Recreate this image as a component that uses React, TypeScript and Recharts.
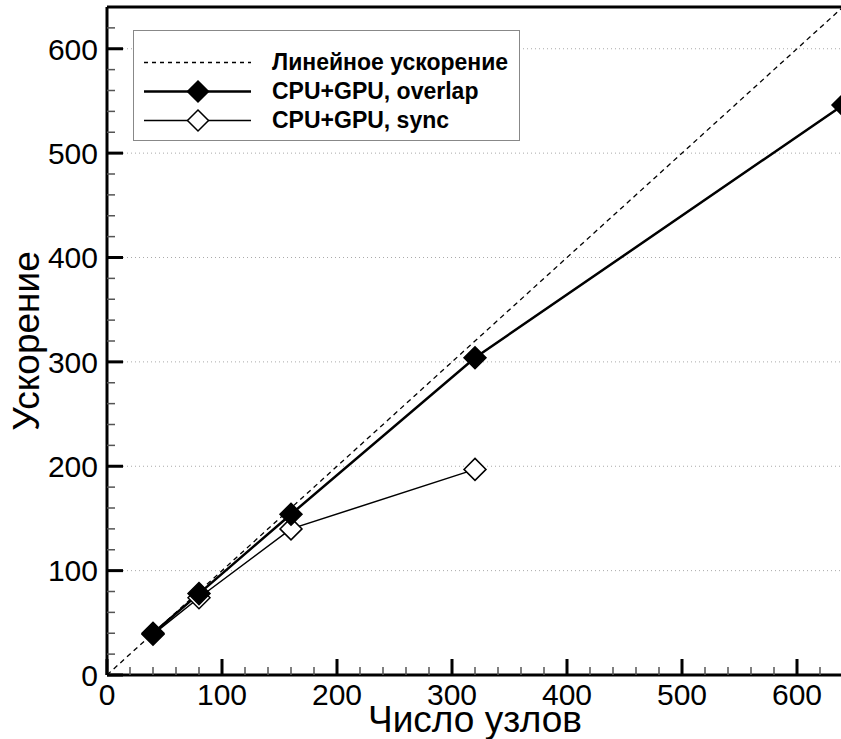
import { ComposedChart, Legend, Line, ReferenceLine, Scatter, XAxis, YAxis } from 'recharts';

// speedup vs number of nodes
const overlapNodes = [40, 80, 160, 320, 640];
const overlapSpeedup = [40, 78, 154, 304, 546];
const syncNodes = [40, 80, 160, 320];
const syncSpeedup = [39, 74, 140, 197];
const linearNodes = [0, 640];
const linearSpeedup = [0, 640];

const seriesNames = ['Линейное ускорение', 'CPU+GPU, overlap', 'CPU+GPU, sync'];
const xTitle = 'Число узлов';
const yTitle = 'Ускорение';

const axisMax = 640;
const axisTicks = [
  0, 20, 40, 60, 80, 100, 120, 140, 160, 180, 200, 220, 240, 260, 280, 300,
  320, 340, 360, 380, 400, 420, 440, 460, 480, 500, 520, 540, 560, 580, 600, 620,
];
const gridLevels = [100, 200, 300, 400, 500, 600];

const isMajor = (v: number) => v % 100 === 0;

const toPoints = (xs: number[], ys: number[]) => xs.map((x, i) => ({ x, y: ys[i] }));
const overlapData = toPoints(overlapNodes, overlapSpeedup);
const syncData = toPoints(syncNodes, syncSpeedup);
const linearData = toPoints(linearNodes, linearSpeedup);
// tick marks sit on the axes, anchored at the tick values
const xMarkData = axisTicks.map((t) => ({ x: t, y: 0, major: isMajor(t) }));
const yMarkData = axisTicks.map((t) => ({ x: 0, y: t, major: isMajor(t) }));

const FONT = '"Liberation Sans", Arial, Helvetica, sans-serif';

function diamondPath(cx: number, cy: number, r: number) {
  return `${cx},${cy - r} ${cx + r},${cy} ${cx},${cy + r} ${cx - r},${cy}`;
}

function Diamond(props: any) {
  const { cx, cy, filled } = props;
  if (cx == null || cy == null) return null;
  return (
    <polygon
      points={diamondPath(cx, cy, 11)}
      fill={filled ? '#000' : '#fff'}
      stroke="#000"
      strokeWidth={1.5}
    />
  );
}

function XTick({ x, y, payload }: any) {
  const v = payload.value as number;
  if (!isMajor(v)) return <g />;
  return (
    <text x={x} y={y + 8} dy="0.72em" textAnchor="middle" fontSize={30} fontFamily={FONT} fill="#000">
      {v}
    </text>
  );
}

function YTick({ x, y, payload }: any) {
  const v = payload.value as number;
  if (!isMajor(v)) return <g />;
  return (
    <text x={x - 9} y={y} dy="0.36em" textAnchor="end" fontSize={30} fontFamily={FONT} fill="#000">
      {v}
    </text>
  );
}

// inward tick marks, major every 100, minor every 20
function XMark(props: any) {
  const { cx, cy, major } = props;
  if (cx == null || cy == null) return <g />;
  const len = major ? 16 : 8;
  const w = major ? 3 : 1.5;
  return <rect x={cx - w / 2} y={cy - len} width={w} height={len} fill={major ? '#000' : '#555'} />;
}

function YMark(props: any) {
  const { cx, cy, major } = props;
  if (cx == null || cy == null) return <g />;
  const len = major ? 16 : 8;
  const w = major ? 3 : 1.5;
  return <rect x={cx} y={cy - w / 2} width={len} height={w} fill={major ? '#000' : '#555'} />;
}

function XTitle({ viewBox }: any) {
  const cx = viewBox.x + viewBox.width / 2;
  const cy = viewBox.y + 57;
  return (
    <text x={cx} y={cy} textAnchor="middle" fontSize={37} fontFamily={FONT} fill="#000">
      {xTitle}
    </text>
  );
}

function YTitle({ viewBox }: any) {
  const cx = viewBox.x + 39;
  const cy = viewBox.y + viewBox.height / 2;
  return (
    <text
      x={cx}
      y={cy}
      transform={`rotate(-90 ${cx} ${cy})`}
      textAnchor="middle"
      fontSize={37}
      fontFamily={FONT}
      fill="#000"
    >
      {yTitle}
    </text>
  );
}

function LegendBox() {
  const styles = [
    { dash: '4 4', width: 1.5, marker: null },
    { dash: undefined, width: 2.5, marker: true },
    { dash: undefined, width: 1.5, marker: false },
  ];
  return (
    <div
      style={{
        boxSizing: 'border-box',
        width: 387,
        height: 111,
        border: '1.5px solid #888',
        background: '#fff',
        paddingTop: 17,
        fontFamily: FONT,
        fontWeight: 'bold',
        fontSize: 23,
        color: '#000',
      }}
    >
      {seriesNames.map((name, i) => {
        const s = styles[i];
        return (
          <div key={name} style={{ display: 'flex', alignItems: 'center', height: 29 }}>
            <svg width={138} height={29} style={{ flex: 'none' }}>
              <line x1={10} x2={117} y1={14.5} y2={14.5} stroke="#000" strokeWidth={s.width} strokeDasharray={s.dash} />
              {s.marker !== null && (
                <polygon
                  points={diamondPath(64, 14.5, 10.5)}
                  fill={s.marker ? '#000' : '#fff'}
                  stroke="#000"
                  strokeWidth={1.5}
                />
              )}
            </svg>
            <span style={{ whiteSpace: 'nowrap' }}>{name}</span>
          </div>
        );
      })}
    </div>
  );
}

export default function App() {
  return (
    <div
      style={{
        position: 'absolute',
        left: 0,
        top: 0,
        width: 841,
        height: 739,
        overflow: 'hidden',
        background: '#fff',
      }}
    >
      <ComposedChart width={850} height={739} margin={{ top: 6, right: 7, bottom: 0, left: 0 }}>
        <XAxis
          dataKey="x"
          type="number"
          domain={[0, axisMax]}
          ticks={axisTicks}
          interval={0}
          tickSize={0}
          tickMargin={0}
          tickLine={false}
          tick={<XTick />}
          height={64}
          axisLine={{ stroke: '#000', strokeWidth: 3 }}
          label={<XTitle />}
        />
        <XAxis
          xAxisId="top"
          orientation="top"
          type="number"
          domain={[0, axisMax]}
          tick={false}
          tickLine={false}
          height={1}
          axisLine={{ stroke: '#000', strokeWidth: 3 }}
        />
        <YAxis
          dataKey="y"
          type="number"
          domain={[0, axisMax]}
          ticks={axisTicks}
          interval={0}
          tickSize={0}
          tickMargin={0}
          tickLine={false}
          tick={<YTick />}
          width={107}
          axisLine={{ stroke: '#000', strokeWidth: 3 }}
          label={<YTitle />}
        />
        {gridLevels.map((g) => (
          <ReferenceLine key={`g${g}`} y={g} stroke="#aaa" strokeWidth={1} strokeDasharray="1 3" />
        ))}
        <Scatter data={xMarkData} shape={(p: any) => <XMark {...p} />} isAnimationActive={false} />
        <Scatter data={yMarkData} shape={(p: any) => <YMark {...p} />} isAnimationActive={false} />
        <Legend
          layout="vertical"
          align="center"
          verticalAlign="middle"
          wrapperStyle={{ top: 30, left: 133, width: 387, height: 111 }}
          content={() => <LegendBox />}
        />
        <Line
          data={linearData}
          dataKey="y"
          name={seriesNames[0]}
          stroke="#000"
          strokeWidth={1.3}
          strokeDasharray="5 4"
          dot={false}
          activeDot={false}
          isAnimationActive={false}
        />
        <Line
          data={syncData}
          dataKey="y"
          name={seriesNames[2]}
          stroke="#000"
          strokeWidth={1.5}
          dot={(p: any) => <Diamond key={`s${p.index}`} cx={p.cx} cy={p.cy} filled={false} />}
          activeDot={false}
          isAnimationActive={false}
        />
        <Line
          data={overlapData}
          dataKey="y"
          name={seriesNames[1]}
          stroke="#000"
          strokeWidth={2.5}
          dot={(p: any) => <Diamond key={`o${p.index}`} cx={p.cx} cy={p.cy} filled />}
          activeDot={false}
          isAnimationActive={false}
        />
      </ComposedChart>
    </div>
  );
}
